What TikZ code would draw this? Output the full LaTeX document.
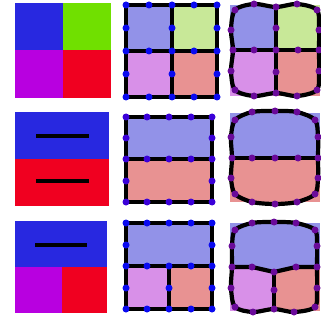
\documentclass[tikz,border=0pt]{standalone}
\definecolor{cB}{RGB}{40,40,224}
\definecolor{cG}{RGB}{112,224,0}
\definecolor{cP}{RGB}{184,0,224}
\definecolor{cR}{RGB}{240,0,32}
\definecolor{lB}{RGB}{146,146,232}
\definecolor{lG}{RGB}{200,232,152}
\definecolor{lP}{RGB}{216,144,232}
\definecolor{lR}{RGB}{232,146,146}
\definecolor{dotA}{RGB}{10,10,240}
\definecolor{dotB}{RGB}{58,0,216}
\definecolor{dotC}{RGB}{106,10,154}
\tikzset{
  edge/.style={line width=4.2pt, black, line join=round, line cap=round},
  bar/.style={line width=3.5pt, black},
}
\newcommand{\mydots}[2]{\foreach \p in {#2} {\fill[#1] \p circle (3.5pt);}}
\begin{document}
\begin{tikzpicture}[x=1pt,y=-1pt]
\useasboundingbox (0,0) rectangle (320,320);
\fill[white] (0,0) rectangle (320,320);
% ---------- Row 1 ----------
\fill[cB] (15,3) rectangle (63,50);
\fill[cG] (63,3) rectangle (111,50);
\fill[cP] (15,50) rectangle (63,98);
\fill[cR] (63,50) rectangle (111,98);
% middle
\fill[lB] (126,5) rectangle (172,51);
\fill[lG] (172,5) rectangle (217,51);
\fill[lP] (126,51) rectangle (172,97);
\fill[lR] (172,51) rectangle (217,97);
\draw[edge] (126,5) rectangle (217,97);
\draw[edge] (126,51) -- (217,51);
\draw[edge] (172,5) -- (172,97);
\mydots{dotA}{(126,5),(149,5),(172,5),(194,5),(217,5),(126,28),(172,28),(217,28),(126,51),(149,51),(172,51),(194,51),(217,51),(126,74),(172,74),(217,74),(126,97),(149,97),(172,97),(194,97),(217,97)}
% right
\fill[lB] (230,5) rectangle (276,50);
\fill[lG] (276,5) rectangle (320,50);
\fill[lP] (230,50) rectangle (276,96);
\fill[lR] (276,50) rectangle (320,96);
\begin{scope}
\clip plot[smooth cycle] coordinates {(235,10) (254,4) (276,7) (297,4) (317,10) (319,30) (319,50) (319,71) (317,90) (297,96) (276,93) (254,96) (235,90) (231,71) (233,50) (231,30)};
\fill[lB] (220,0) rectangle (276,50);
\fill[lG] (276,0) rectangle (330,50);
\fill[lP] (220,50) rectangle (276,105);
\fill[lR] (276,50) rectangle (330,105);
\end{scope}
\draw[edge] plot[smooth cycle] coordinates {(235,10) (254,4) (276,7) (297,4) (317,10) (319,30) (319,50) (319,71) (317,90) (297,96) (276,93) (254,96) (235,90) (231,71) (233,50) (231,30)};
\draw[edge] (233,50) -- (319,50);
\draw[edge] (276,7) -- (276,93);
\mydots{dotC}{(235,10),(254,4),(276,7),(297,4),(317,10),(319,30),(319,50),(319,71),(317,90),(297,96),(276,93),(254,96),(235,90),(231,71),(233,50),(231,30),(254,50),(276,50),(298,50),(276,28),(276,72)}
% ---------- Row 2 ----------
\fill[cB] (15,112) rectangle (109,159);
\fill[cR] (15,159) rectangle (109,206);
\draw[bar] (36,136) -- (89,136);
\draw[bar] (36,181) -- (89,181);
% middle
\fill[lB] (126,117) rectangle (212,159);
\fill[lR] (126,159) rectangle (212,202);
\draw[edge] (126,117) rectangle (212,202);
\draw[edge] (126,159) -- (212,159);
\mydots{dotB}{(126,117),(147,117),(169,117),(191,117),(212,117),(126,138),(212,138),(126,159),(147,159),(169,159),(191,159),(212,159),(126,181),(212,181),(126,202),(147,202),(169,202),(191,202),(212,202)}
% right
\fill[lB] (230,113) rectangle (320,158);
\fill[lR] (230,158) rectangle (320,202);
\begin{scope}
\clip plot[smooth cycle] coordinates {(235,120) (252,112) (275,111) (297,112) (315,120) (318,137) (318,158) (318,178) (315,194) (297,202) (275,204) (252,202) (235,194) (231,178) (232,158) (231,137)};
\fill[lB] (220,100) rectangle (330,158);
\fill[lR] (220,158) rectangle (330,215);
\end{scope}
\draw[edge] plot[smooth cycle] coordinates {(235,120) (252,112) (275,111) (297,112) (315,120) (318,137) (318,158) (318,178) (315,194) (297,202) (275,204) (252,202) (235,194) (231,178) (232,158) (231,137)};
\draw[edge] (232,158) -- (318,158);
\mydots{dotC}{(235,120),(252,112),(275,111),(297,112),(315,120),(318,137),(318,158),(318,178),(315,194),(297,202),(275,204),(252,202),(235,194),(231,178),(232,158),(231,137),(252,158),(275,158),(298,158)}
% ---------- Row 3 ----------
\fill[cB] (15,221) rectangle (107,267);
\fill[cP] (15,267) rectangle (62,313);
\fill[cR] (62,267) rectangle (107,313);
\draw[bar] (35,245) -- (87,245);
% middle
\fill[lB] (126,223) rectangle (212,266);
\fill[lP] (126,266) rectangle (169,309);
\fill[lR] (169,266) rectangle (212,309);
\draw[edge] (126,223) rectangle (212,309);
\draw[edge] (126,266) -- (212,266);
\draw[edge] (169,266) -- (169,309);
\mydots{dotA}{(126,223),(147,223),(169,223),(191,223),(212,223),(126,245),(212,245),(126,266),(147,266),(169,266),(191,266),(212,266),(126,288),(169,288),(212,288),(126,309),(147,309),(169,309),(191,309),(212,309)}
% right
\fill[lB] (230,223) rectangle (320,267);
\fill[lP] (230,267) rectangle (274,311);
\fill[lR] (274,267) rectangle (320,311);
\begin{scope}
\clip plot[smooth cycle] coordinates {(235,230) (252,223) (274,222) (296,223) (315,230) (317,246) (317,267) (317,288) (315,307) (294,312) (274,309) (253,312) (235,307) (231,288) (232,267) (232,246)};
\fill[lB] (220,210) -- (330,210) -- (330,267) -- (296,267) -- (274,272) -- (252,267) -- (220,267) -- cycle;
\fill[lP] (220,267) -- (252,267) -- (274,272) -- (274,325) -- (220,325) -- cycle;
\fill[lR] (274,272) -- (296,267) -- (330,267) -- (330,325) -- (274,325) -- cycle;
\end{scope}
\draw[edge] plot[smooth cycle] coordinates {(235,230) (252,223) (274,222) (296,223) (315,230) (317,246) (317,267) (317,288) (315,307) (294,312) (274,309) (253,312) (235,307) (231,288) (232,267) (232,246)};
\draw[edge] (232,267) -- (252,267) -- (274,272) -- (296,267) -- (317,267);
\draw[edge] (274,272) -- (274,309);
\mydots{dotC}{(235,230),(252,223),(274,222),(296,223),(315,230),(317,246),(317,267),(317,288),(315,307),(294,312),(274,309),(253,312),(235,307),(231,288),(232,267),(232,246),(252,267),(274,272),(296,267),(274,290)}
\end{tikzpicture}
\end{document}
